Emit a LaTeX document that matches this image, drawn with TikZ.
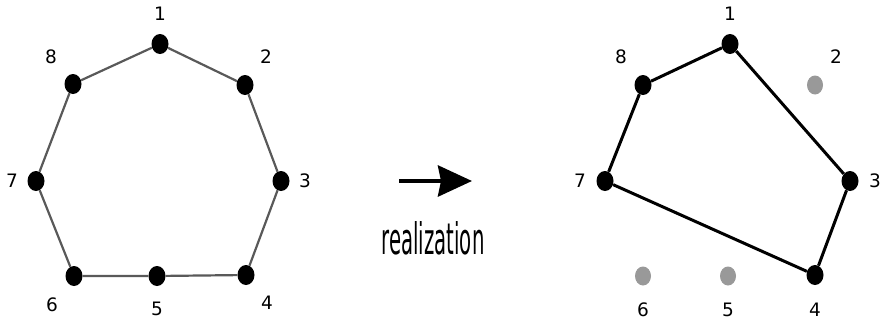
\documentclass[tikz,border=0pt]{standalone}
\usepackage{fontspec}
\setmainfont{DejaVu Sans}
\usetikzlibrary{arrows.meta,shapes.geometric}
\begin{document}
\begin{tikzpicture}[x=1pt,y=-1pt,
  dot/.style={ellipse,fill=black,minimum width=17pt,minimum height=20pt,inner sep=0pt},
  gdot/.style={ellipse,fill=black!40,minimum width=16pt,minimum height=19pt,inner sep=0pt},
  lbl/.style={font=\fontsize{18.5}{18.5}\selectfont,inner sep=0pt},
  gedge/.style={draw=black!65,line width=2.2pt},
  bedge/.style={draw=black,line width=3pt}]
\useasboundingbox (0,0) rectangle (883,324);
% left graph
\node[dot] (a1) at (160,44) {};
\node[dot] (a2) at (245,85) {};
\node[dot] (a3) at (281,181) {};
\node[dot] (a4) at (246,275) {};
\node[dot] (a5) at (157,276) {};
\node[dot] (a6) at (74,276) {};
\node[dot] (a7) at (36,181) {};
\node[dot] (a8) at (73,84) {};
\draw[gedge] (a1)--(a2)--(a3)--(a4)--(a5)--(a6)--(a7)--(a8)--(a1);
\node[lbl] (la1) at (160,14) {1};
\node[lbl] (la2) at (266,57) {2};
\node[lbl] (la3) at (305,181) {3};
\node[lbl] (la4) at (267,303) {4};
\node[lbl] (la5) at (157,309) {5};
\node[lbl] (la6) at (52,305) {6};
\node[lbl] (la7) at (12,181) {7};
\node[lbl] (la8) at (51,57) {8};
% arrow
\coordinate (s) at (399,181);
\coordinate (t) at (472,181);
\draw[line width=4pt,-{Stealth[length=34pt,width=31pt,inset=3pt]}] (s)--(t);
\node[inner sep=0pt] (rl) at (433,238) {\resizebox{103pt}{33pt}{realization}};
% right graph
\node[dot] (b1) at (730,44) {};
\node[gdot] (b2) at (815,85) {};
\node[dot] (b3) at (850,181) {};
\node[dot] (b4) at (815,275) {};
\node[gdot] (b5) at (728,276) {};
\node[gdot] (b6) at (643,276) {};
\node[dot] (b7) at (605,181) {};
\node[dot] (b8) at (643,85) {};
\draw[bedge] (b1)--(b8)--(b7)--(b4)--(b3)--(b1);
\node[lbl] (lb1) at (730,14) {1};
\node[lbl] (lb2) at (836,57) {2};
\node[lbl] (lb3) at (875,181) {3};
\node[lbl] (lb4) at (815,310) {4};
\node[lbl] (lb5) at (728,310) {5};
\node[lbl] (lb6) at (643,310) {6};
\node[lbl] (lb7) at (580,181) {7};
\node[lbl] (lb8) at (621,57) {8};
\end{tikzpicture}
\end{document}
